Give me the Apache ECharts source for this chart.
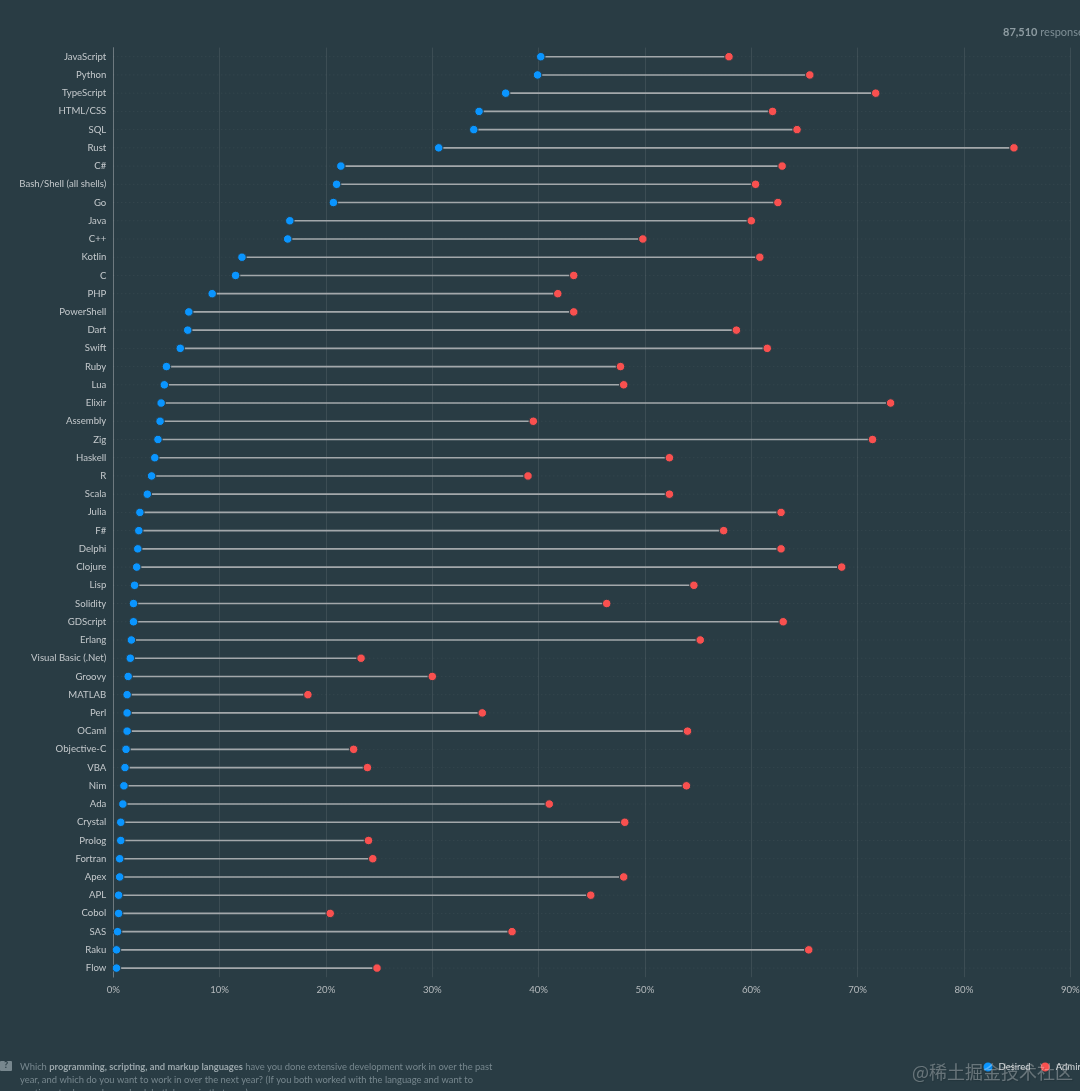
<!DOCTYPE html>
<html>
<head>
<meta charset="utf-8">
<style>html,body{margin:0;padding:0;background:#293c44;overflow:hidden}#chart{width:1080px;height:1091px}</style>
<script src="https://cdn.jsdelivr.net/npm/echarts@6/dist/echarts.min.js"></script>
</head>
<body>
<div id="chart"></div>
<script>
var languages = ['JavaScript','Python','TypeScript','HTML/CSS','SQL','Rust','C#','Bash/Shell (all shells)','Go','Java','C++','Kotlin','C','PHP','PowerShell','Dart','Swift','Ruby','Lua','Elixir','Assembly','Zig','Haskell','R','Scala','Julia','F#','Delphi','Clojure','Lisp','Solidity','GDScript','Erlang','Visual Basic (.Net)','Groovy','MATLAB','Perl','OCaml','Objective-C','VBA','Nim','Ada','Crystal','Prolog','Fortran','Apex','APL','Cobol','SAS','Raku','Flow'];
var desired = [40.2,39.9,36.9,34.4,33.9,30.6,21.4,21.0,20.7,16.6,16.4,12.1,11.5,9.3,7.1,7.0,6.3,5.0,4.8,4.5,4.4,4.2,3.9,3.6,3.2,2.5,2.4,2.3,2.2,2.0,1.9,1.9,1.7,1.6,1.4,1.3,1.3,1.3,1.2,1.1,1.0,0.9,0.7,0.7,0.6,0.6,0.5,0.5,0.4,0.3,0.3];
var admired = [57.9,65.5,71.7,62.0,64.3,84.7,62.9,60.4,62.5,60.0,49.8,60.8,43.3,41.8,43.3,58.6,61.5,47.7,48.0,73.1,39.5,71.4,52.3,39.0,52.3,62.8,57.4,62.8,68.5,54.6,46.4,63.0,55.2,23.3,30.0,18.3,34.7,54.0,22.6,23.9,53.9,41.0,48.1,24.0,24.4,48.0,44.9,20.4,37.5,65.4,24.8];

var bg = '#293c44';
var font = 'Lato, sans-serif';

var myChart = echarts.init(document.getElementById('chart'));

// 点线：虚线到90%，实线连接两个点
var renderRow = function (params, api) {
    var y = api.value(0);
    var from = api.coord([api.value(1), y]);
    var to = api.coord([api.value(2), y]);
    var start = api.coord([0, y]);
    var end = api.coord([90, y]);
    return {
        type: 'group',
        children: [
            {type: 'line', shape: {x1: start[0], y1: start[1], x2: end[0], y2: end[1]}, style: {stroke: 'rgba(255,255,255,0.07)', lineWidth: 1, lineDash: [1, 3]}},
            {type: 'line', shape: {x1: from[0], y1: from[1], x2: to[0], y2: to[1]}, style: {stroke: '#a3a8ab', lineWidth: 1.6}}
        ]
    };
};

var option = {
    backgroundColor: bg,
    animation: false,
    textStyle: {fontFamily: font},
    grid: {left: 113.3, right: 9.7, top: 47.6, bottom: 113.8, outerBoundsMode: 'none'},
    legend: {
        data: ['Desired', 'Admired'],
        left: 981.5, top: 1060.5, width: 300, padding: 0,
        itemWidth: 11, itemHeight: 11, itemGap: 8,
        icon: 'circle',
        textStyle: {color: '#d5d9db', fontSize: 9.5, fontFamily: font}
    },
    xAxis: {
        type: 'value', min: 0, max: 90, interval: 10,
        position: 'bottom',
        axisLine: {show: false},
        axisTick: {show: false},
        axisLabel: {color: '#b5babd', fontSize: 9.6, margin: 8, formatter: '{value}%'},
        splitLine: {lineStyle: {color: 'rgba(255,255,255,0.09)', width: 1}}
    },
    yAxis: {
        type: 'category', data: languages, inverse: true,
        axisLine: {lineStyle: {color: 'rgba(255,255,255,0.25)', width: 1}},
        axisTick: {show: false},
        axisLabel: {color: '#c4c9cc', fontSize: 9.6, margin: 7, interval: 0, padding: [1, 0, 0, 0]}
    },
    graphic: [
        {type: 'text', left: 1003, top: 27, silent: true, style: {
            text: '{b|87,510} responses',
            fill: '#7f8f96', fontSize: 11, fontFamily: font,
            rich: {b: {fontWeight: 'bold', fontSize: 11, fill: '#8d9ba1', fontFamily: font}}
        }},
        {type: 'rect', left: 0, top: 1061, shape: {width: 12, height: 10, r: 1}, style: {fill: '#77878e'}},
        {type: 'text', left: 4, top: 1060.5, style: {text: '?', fill: bg, fontSize: 9, fontWeight: 'bold', fontFamily: font}},
        {type: 'text', left: 20, top: 1060, silent: true, style: {
            text: 'Which {b|programming, scripting, and markup languages} have you done extensive development work in over the past\nyear, and which do you want to work in over the next year? (If you both worked with the language and want to\ncontinue to do so, please check both boxes in that row.)',
            fill: '#77878e', fontSize: 9.4, lineHeight: 13, fontFamily: font,
            rich: {b: {fontWeight: 'bold', fontSize: 9.4, lineHeight: 13, fill: '#9aa6ab', fontFamily: font}}
        }},
        {type: 'text', left: 912, top: 1063, silent: true, z: 100, style: {
            text: '@稀土掘金技术社区',
            fill: 'rgba(255,255,255,0.3)', fontSize: 18, fontFamily: '"Noto Sans CJK SC"',
            textShadowColor: 'rgba(0,0,0,0.4)', textShadowBlur: 1, textShadowOffsetX: 1, textShadowOffsetY: 1
        }}
    ],
    series: [
        {
            type: 'custom', silent: true, z: 1,
            renderItem: renderRow,
            encode: {x: [1, 2], y: 0},
            data: languages.map(function (name, i) { return [i, desired[i], admired[i]]; })
        },
        {
            name: 'Desired', type: 'scatter', z: 3, symbolSize: 8.5,
            itemStyle: {color: '#0a95ff', borderColor: bg, borderWidth: 1, opacity: 1},
            data: desired.map(function (v, i) { return [v, i]; })
        },
        {
            name: 'Admired', type: 'scatter', z: 3, symbolSize: 8.5,
            itemStyle: {color: '#f9504f', borderColor: bg, borderWidth: 1, opacity: 1},
            data: admired.map(function (v, i) { return [v, i]; })
        }
    ]
};

myChart.setOption(option);
</script>
</body>
</html>
